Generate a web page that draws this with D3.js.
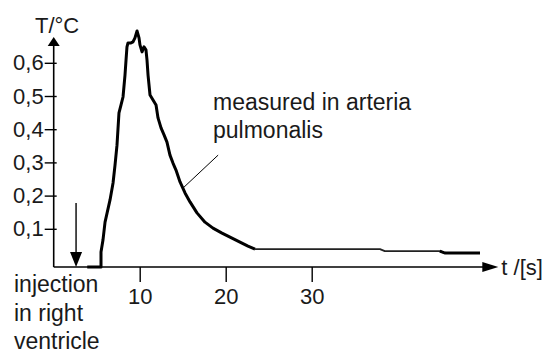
<!DOCTYPE html>
<html>
<head>
<meta charset="utf-8">
<script src="https://cdn.jsdelivr.net/npm/d3@7/dist/d3.min.js"></script>
<style>
  html, body { margin: 0; padding: 0; background: #fff; }
  text { font-family: "Liberation Sans", Arial, sans-serif; fill: #1a1a1a; }
</style>
</head>
<body>
<svg id="chart" width="544" height="354"></svg>
<script>
// ---- data ----
const timeS = [3.9, 5.5, 5.5, 5.73, 5.97, 6.55, 6.9, 7.13, 7.36, 7.59, 7.83, 8.06, 8.29, 8.41, 8.52, 8.64, 8.99, 9.22, 9.45, 9.69, 9.92, 10.03, 10.27, 10.5, 10.73, 10.85, 10.97, 11.2, 11.55, 11.9, 12.13, 12.48, 12.83, 13.17, 13.52, 13.87, 14.22, 14.69, 15.27, 15.85, 16.66, 17.59, 18.52, 19.57, 20.5, 21.66, 22.59, 23.41, 28.64, 37.94, 38.5, 44.9, 45.5, 49.57];
const tempC = [-0.015, -0.015, 0.03, 0.066, 0.12, 0.187, 0.238, 0.292, 0.352, 0.449, 0.473, 0.497, 0.563, 0.608, 0.648, 0.66, 0.66, 0.663, 0.675, 0.696, 0.675, 0.654, 0.633, 0.648, 0.639, 0.608, 0.563, 0.503, 0.488, 0.473, 0.434, 0.404, 0.383, 0.361, 0.322, 0.298, 0.277, 0.241, 0.208, 0.181, 0.148, 0.12, 0.102, 0.087, 0.075, 0.06, 0.048, 0.039, 0.039, 0.039, 0.033, 0.033, 0.027, 0.027];
const xTicks = [10, 20, 30];
const yTicks = [0.1, 0.2, 0.3, 0.4, 0.5, 0.6];
const yTickLabels = ["0,1", "0,2", "0,3", "0,4", "0,5", "0,6"];
const yAxisTitle = "T/°C";
const xAxisTitle = "t /[s]";
const injectionTime = 2.6;
const injectionArrowTop = 0.178;
const injectionLabel = ["injection", "in right", "ventricle"];
const measuredLabel = ["measured in arteria", "pulmonalis"];
const leaderFrom = [15.05, 0.223];
const leaderTo = [19.12, 0.322];
const xAxisEnd = 51.7;
const yAxisEnd = 0.678;
const xAxisValue = -0.015;
const tailStart = 23.41;   // where the trace becomes a thin line
const tailThickFrom = 44.9; // thick again at the very end

// ---- layout ----
const svg = d3.select("#chart");
const x = d3.scaleLinear().domain([0, 30]).range([53.7, 311.7]);
const y = d3.scaleLinear().domain([0, 0.7]).range([262, 29.6]);
const x0 = x(0), yBase = y(xAxisValue);
const FS = 22;

// x axis line + arrow
svg.append("line").attr("x1", x0).attr("x2", x(xAxisEnd) - 8)
  .attr("y1", yBase).attr("y2", yBase).attr("stroke", "#000").attr("stroke-width", 1.6);
svg.append("path")
  .attr("d", `M${x(xAxisEnd)},${yBase} L${x(xAxisEnd) - 16},${yBase - 5} L${x(xAxisEnd) - 16},${yBase + 5} Z`)
  .attr("fill", "#000");
// x ticks
const xAxisG = svg.append("g").attr("transform", `translate(0,${yBase})`)
  .call(d3.axisBottom(x).tickValues(xTicks).tickSize(15).tickPadding(6).tickFormat(d3.format("d")));
xAxisG.select(".domain").remove();
xAxisG.selectAll(".tick line").attr("stroke", "#000").attr("stroke-width", 1.4);
xAxisG.selectAll(".tick text").attr("font-size", FS).attr("font-family", "Liberation Sans, Arial, sans-serif").attr("fill", "#2a2a2a");

// y axis line + arrow
svg.append("line").attr("x1", x0).attr("x2", x0)
  .attr("y1", yBase).attr("y2", y(yAxisEnd) + 6).attr("stroke", "#000").attr("stroke-width", 1.6);
svg.append("path")
  .attr("d", `M${x0},${y(yAxisEnd)} L${x0 - 6},${y(yAxisEnd) + 9} L${x0 + 6},${y(yAxisEnd) + 9} Z`)
  .attr("fill", "#000");
// y ticks
const yAxisG = svg.append("g").attr("transform", `translate(${x0 + 3},0)`)
  .call(d3.axisLeft(y).tickValues(yTicks).tickSize(12).tickPadding(1)
    .tickFormat((d, i) => yTickLabels[i]));
yAxisG.select(".domain").remove();
yAxisG.selectAll(".tick line").attr("stroke", "#000").attr("stroke-width", 1.4);
yAxisG.selectAll(".tick text").attr("font-size", FS).attr("font-family", "Liberation Sans, Arial, sans-serif").attr("fill", "#2a2a2a");

// axis titles
svg.append("text").attr("x", 35).attr("y", 33).attr("font-size", FS).text(yAxisTitle);
svg.append("text").attr("x", x(xAxisEnd) + 3).attr("y", yBase + 8).attr("font-size", FS).text(xAxisTitle);

// curve
const pts = timeS.map((t, i) => [t, tempC[i]]);
const line = d3.line().x(d => x(d[0])).y(d => y(d[1]));
const main = pts.filter(d => d[0] <= tailStart);
const tail = pts.filter(d => d[0] >= tailStart);
const tailEnd = pts.filter(d => d[0] >= tailThickFrom);
svg.append("path").datum(main)
  .attr("fill", "none").attr("stroke", "#000").attr("stroke-width", 3)
  .attr("stroke-linejoin", "round").attr("d", line);
svg.append("path").datum(tail)
  .attr("fill", "none").attr("stroke", "#222").attr("stroke-width", 1.8)
  .attr("stroke-linejoin", "round").attr("d", line);
svg.append("path").datum(tailEnd)
  .attr("fill", "none").attr("stroke", "#000").attr("stroke-width", 3)
  .attr("d", line);

// injection arrow
const ix = x(injectionTime);
svg.append("line").attr("x1", ix).attr("x2", ix)
  .attr("y1", y(injectionArrowTop)).attr("y2", yBase - 10)
  .attr("stroke", "#000").attr("stroke-width", 1.4);
svg.append("path")
  .attr("d", `M${ix},${yBase} L${ix - 6},${yBase - 15} L${ix + 6},${yBase - 15} Z`)
  .attr("fill", "#000");
svg.append("g").selectAll("text").data(injectionLabel).join("text")
  .attr("x", 14).attr("y", (d, i) => 292 + i * 28.5)
  .attr("font-size", FS + 1).text(d => d);

// measured annotation
svg.append("line")
  .attr("x1", x(leaderFrom[0])).attr("y1", y(leaderFrom[1]))
  .attr("x2", x(leaderTo[0])).attr("y2", y(leaderTo[1]))
  .attr("stroke", "#000").attr("stroke-width", 1);
svg.append("g").selectAll("text").data(measuredLabel).join("text")
  .attr("x", 213).attr("y", (d, i) => 110 + i * 28)
  .attr("font-size", FS + 1).text(d => d);
</script>
</body>
</html>
